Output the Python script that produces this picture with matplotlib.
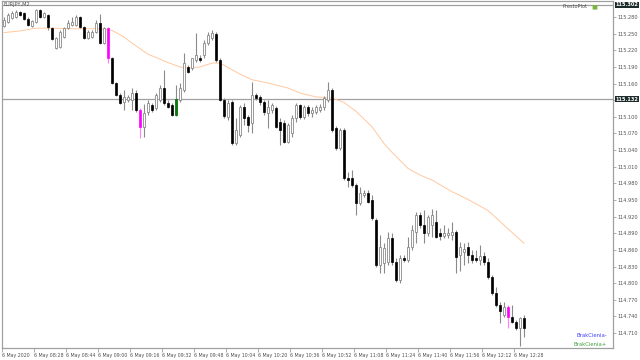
import matplotlib
matplotlib.use("Agg")
import matplotlib.pyplot as plt

# EURJPY M2 candles, 6 May 2020
opens = [115.264, 115.271, 115.278, 115.280, 115.289, 115.288, 115.277, 115.264, 115.271, 115.293,
         115.280, 115.284, 115.260, 115.224, 115.226, 115.244, 115.260, 115.266, 115.266, 115.280,
         115.262, 115.242, 115.244, 115.253, 115.269, 115.233, 115.260, 115.206, 115.161, 115.140,
         115.127, 115.131, 115.131, 115.143, 115.112, 115.082, 115.109, 115.121, 115.116, 115.131,
         115.152, 115.125, 115.121, 115.103, 115.131, 115.149, 115.190, 115.188, 115.203, 115.206,
         115.212, 115.233, 115.242, 115.250, 115.203, 115.131, 115.100, 115.127, 115.053, 115.067,
         115.118, 115.100, 115.089, 115.140, 115.136, 115.127, 115.107, 115.112, 115.116, 115.091,
         115.089, 115.055, 115.071, 115.098, 115.121, 115.100, 115.118, 115.107, 115.109, 115.112,
         115.118, 115.131, 115.149, 115.080, 115.044, 115.076, 114.990, 114.990, 114.977, 114.944,
         114.959, 114.963, 114.950, 114.914, 114.833, 114.836, 114.838, 114.881, 114.838, 114.806,
         114.845, 114.842, 114.865, 114.892, 114.923, 114.905, 114.890, 114.905, 114.910, 114.890,
         114.885, 114.887, 114.887, 114.892, 114.851, 114.856, 114.865, 114.851, 114.845, 114.842,
         114.849, 114.838, 114.811, 114.782, 114.760, 114.742, 114.757, 114.739, 114.730, 114.719,
         114.737]
highs = [115.280, 115.288, 115.291, 115.293, 115.291, 115.289, 115.280, 115.275, 115.295, 115.295,
         115.289, 115.286, 115.262, 115.244, 115.257, 115.262, 115.275, 115.280, 115.284, 115.282,
         115.264, 115.257, 115.257, 115.275, 115.286, 115.262, 115.262, 115.208, 115.163, 115.143,
         115.149, 115.140, 115.152, 115.149, 115.116, 115.123, 115.131, 115.125, 115.143, 115.158,
         115.185, 115.131, 115.125, 115.158, 115.161, 115.215, 115.194, 115.206, 115.251, 115.212,
         115.239, 115.253, 115.257, 115.253, 115.206, 115.134, 115.131, 115.131, 115.098, 115.121,
         115.125, 115.103, 115.163, 115.143, 115.140, 115.131, 115.131, 115.125, 115.120, 115.098,
         115.094, 115.089, 115.103, 115.125, 115.123, 115.121, 115.121, 115.118, 115.121, 115.123,
         115.138, 115.163, 115.152, 115.084, 115.080, 115.080, 115.000, 115.004, 114.981, 114.973,
         114.968, 114.968, 114.959, 114.917, 114.887, 114.872, 114.892, 114.890, 114.845, 114.851,
         114.851, 114.883, 114.905, 114.928, 114.928, 114.932, 114.923, 114.934, 114.932, 114.899,
         114.905, 114.899, 114.910, 114.896, 114.874, 114.872, 114.874, 114.860, 114.860, 114.869,
         114.856, 114.845, 114.815, 114.793, 114.766, 114.766, 114.760, 114.760, 114.733, 114.739,
         114.742]
lows = [115.262, 115.269, 115.277, 115.278, 115.282, 115.275, 115.264, 115.262, 115.269, 115.278,
        115.278, 115.257, 115.239, 115.223, 115.224, 115.242, 115.259, 115.264, 115.264, 115.260,
        115.241, 115.241, 115.242, 115.251, 115.232, 115.232, 115.197, 115.159, 115.138, 115.123,
        115.112, 115.127, 115.112, 115.109, 115.062, 115.064, 115.103, 115.109, 115.112, 115.127,
        115.121, 115.116, 115.102, 115.102, 115.127, 115.145, 115.179, 115.185, 115.199, 115.199,
        115.206, 115.230, 115.239, 115.199, 115.129, 115.098, 115.094, 115.049, 115.049, 115.064,
        115.085, 115.073, 115.071, 115.131, 115.121, 115.103, 115.080, 115.107, 115.080, 115.049,
        115.053, 115.053, 115.064, 115.091, 115.096, 115.096, 115.102, 115.100, 115.105, 115.109,
        115.112, 115.127, 115.073, 115.040, 115.040, 114.986, 114.973, 114.973, 114.923, 114.941,
        114.955, 114.944, 114.914, 114.829, 114.818, 114.818, 114.833, 114.833, 114.802, 114.800,
        114.838, 114.838, 114.860, 114.872, 114.899, 114.872, 114.885, 114.883, 114.881, 114.878,
        114.881, 114.881, 114.878, 114.818, 114.822, 114.833, 114.836, 114.836, 114.838, 114.833,
        114.833, 114.807, 114.778, 114.757, 114.728, 114.739, 114.719, 114.728, 114.715, 114.686,
        114.703]
closes = [115.275, 115.284, 115.288, 115.289, 115.284, 115.277, 115.266, 115.273, 115.293, 115.280,
          115.288, 115.262, 115.241, 115.242, 115.253, 115.260, 115.269, 115.271, 115.280, 115.262,
          115.242, 115.253, 115.253, 115.269, 115.233, 115.260, 115.206, 115.161, 115.140, 115.125,
          115.136, 115.136, 115.143, 115.112, 115.082, 115.107, 115.125, 115.112, 115.140, 115.152,
          115.125, 115.118, 115.103, 115.132, 115.152, 115.197, 115.181, 115.206, 115.212, 115.203,
          115.233, 115.248, 115.251, 115.203, 115.131, 115.102, 115.125, 115.053, 115.076, 115.118,
          115.098, 115.085, 115.140, 115.134, 115.127, 115.109, 115.118, 115.121, 115.082, 115.076,
          115.055, 115.085, 115.098, 115.121, 115.100, 115.118, 115.107, 115.112, 115.118, 115.118,
          115.134, 115.149, 115.076, 115.044, 115.076, 114.990, 114.986, 114.977, 114.944, 114.963,
          114.963, 114.946, 114.917, 114.833, 114.865, 114.863, 114.881, 114.838, 114.806, 114.845,
          114.842, 114.865, 114.896, 114.923, 114.905, 114.890, 114.919, 114.923, 114.883, 114.885,
          114.890, 114.890, 114.892, 114.847, 114.865, 114.862, 114.851, 114.842, 114.842, 114.849,
          114.838, 114.811, 114.782, 114.760, 114.750, 114.757, 114.739, 114.730, 114.719, 114.737,
          114.719]

magenta_bars = [26, 34, 126]
green_bars = [43]

ma_idx = [0, 4, 8, 12, 16, 21, 24, 27, 30, 32, 36, 41, 44, 46, 49, 52, 54, 56, 59, 62, 66, 71, 74,
          78, 82, 85, 88, 92, 95, 97, 101, 104, 107, 112, 116, 121, 123, 126, 130]
ma_vals = [115.252, 115.255, 115.260, 115.260, 115.259, 115.259, 115.259, 115.256, 115.244, 115.233,
           115.213, 115.198, 115.190, 115.188, 115.190, 115.197, 115.197, 115.189, 115.177, 115.167,
           115.161, 115.152, 115.143, 115.136, 115.134, 115.126, 115.110, 115.082, 115.052, 115.036,
           115.007, 114.995, 114.986, 114.965, 114.951, 114.931, 114.918, 114.898, 114.872]

hlines = [115.302, 115.132]
price_ticks = [115.280, 115.250, 115.220, 115.190, 115.160, 115.130, 115.100, 115.070, 115.040,
               115.010, 114.980, 114.950, 114.920, 114.890, 114.860, 114.830, 114.800, 114.770,
               114.740, 114.710]
time_labels = ["6 May 2020", "6 May 08:28", "6 May 08:44", "6 May 09:00", "6 May 09:16",
               "6 May 09:32", "6 May 09:48", "6 May 10:04", "6 May 10:20", "6 May 10:36",
               "6 May 10:52", "6 May 11:08", "6 May 11:24", "6 May 11:40", "6 May 11:56",
               "6 May 12:12", "6 May 12:28"]

fig = plt.figure(figsize=(6.4, 3.6), dpi=100)
ax = fig.add_axes([2 / 640, 12 / 360, 611 / 640, 347 / 360])
ax.set_xlim(-0.5, 152.25)
ax.set_ylim(114.683, 115.309)

frame = "#a0a0a0"
wick = "#8a8a8a"
txt = "#505050"

for y in hlines:
    ax.axhline(y, color=frame, lw=0.9, zorder=1)

ax.plot(ma_idx, ma_vals, color="#ffc8a0", lw=0.7, zorder=2)

for i in range(len(opens)):
    o, h, l, c = opens[i], highs[i], lows[i], closes[i]
    bottom = min(o, c)
    height = max(abs(c - o), 0.0008)
    if i in magenta_bars:
        ax.vlines(i, l, h, color="#ff80ff", lw=0.8, zorder=3)
        ax.bar(i, height, 0.7, bottom, color="#ff00ff", edgecolor="#ff00ff", lw=0.5, zorder=4)
    elif i in green_bars:
        ax.vlines(i, l, h, color=wick, lw=0.8, zorder=3)
        ax.bar(i, height, 0.7, bottom, color="#008000", edgecolor="#006000", lw=0.5, zorder=4)
    elif c >= o:
        ax.vlines(i, l, h, color=wick, lw=0.8, zorder=3)
        ax.bar(i, height, 0.7, bottom, color="white", edgecolor=wick, lw=0.6, zorder=4)
    else:
        ax.vlines(i, l, h, color=wick, lw=0.8, zorder=3)
        ax.bar(i, height, 0.7, bottom, color="black", edgecolor="black", lw=0.5, zorder=4)

for s in ["left", "right", "top", "bottom"]:
    ax.spines[s].set_color(frame)
    ax.spines[s].set_linewidth(0.9)

# tick labels hidden behind the line price boxes are left blank
ylabels = []
for p in price_ticks:
    hidden = any(abs(p - y) < 0.006 for y in hlines)
    ylabels.append("" if hidden else "%.3f" % p)

ax.yaxis.tick_right()
ax.set_yticks(price_ticks)
ax.set_yticklabels(ylabels, fontsize=3.6, color=txt)
ax.tick_params(axis="y", length=2.5, width=0.6, color=frame, pad=1)

xt = [8 * k - 0.5 for k in range(len(time_labels))]
ax.set_xticks(xt)
ax.set_xticklabels(time_labels, fontsize=3.4, color=txt, ha="left")
ax.tick_params(axis="x", length=3, width=0.6, color=frame, pad=0.5)

# price labels for the horizontal lines
for y in hlines:
    ax.text(1.004, y, "%.3f" % y, transform=ax.get_yaxis_transform(), fontsize=3.6,
            color="white", va="center", ha="left", fontweight="bold",
            bbox=dict(boxstyle="square,pad=0.15", fc="#1c2a2a", ec="none"), clip_on=False)

ax.text(0.002, 0.997, "EURJPY,M2", transform=ax.transAxes, fontsize=3.6, color=txt,
        va="top", ha="left")
ax.text(0.958, 0.99, "PrestoPlot", transform=ax.transAxes, fontsize=3.6, color=txt,
        va="top", ha="right")
ax.text(0.975, 0.99, "\u25a0", transform=ax.transAxes, fontsize=4.5, color="#7cb342",
        va="top", ha="right")
ax.text(0.99, 0.03, "BrakCienia-", transform=ax.transAxes, fontsize=3.8, color="#4040ff",
        va="bottom", ha="right")
ax.text(0.99, 0.004, "BrakCienia+", transform=ax.transAxes, fontsize=3.8, color="#40a040",
        va="bottom", ha="right")

fig.savefig("out.png", dpi=100)
